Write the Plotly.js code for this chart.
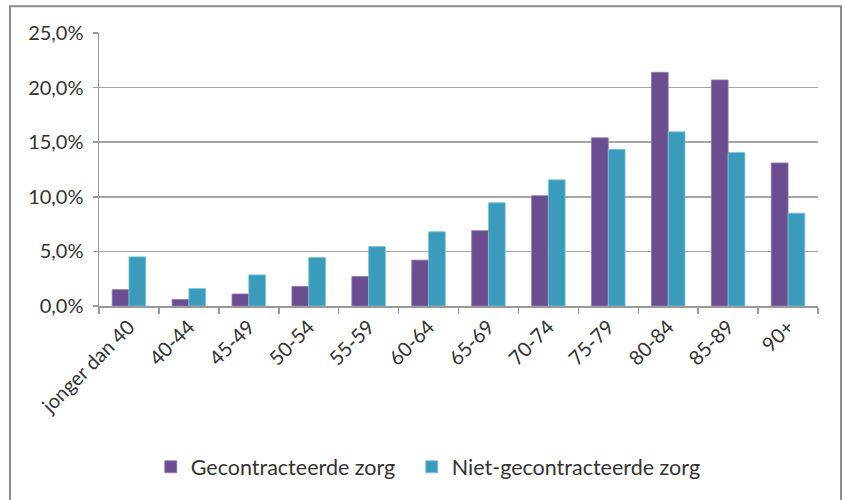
<!DOCTYPE html>
<html>
<head>
<meta charset="utf-8">
<script src="https://cdn.plot.ly/plotly-3.0.1.min.js"></script>
<style>
html,body{margin:0;padding:0;background:#fff;}
#chart{width:843px;height:500px;}
</style>
</head>
<body>
<div id="chart"></div>
<script>
const categories = ["jonger dan 40","40-44","45-49","50-54","55-59","60-64","65-69","70-74","75-79","80-84","85-89","90+"];
const gecontracteerd = [1.5, 0.6, 1.1, 1.8, 2.7, 4.2, 6.9, 10.1, 15.4, 21.4, 20.7, 13.1];
const nietGecontracteerd = [4.5, 1.6, 2.85, 4.45, 5.45, 6.8, 9.45, 11.55, 14.35, 15.95, 14.05, 8.5];
const yTicks = [0, 5, 10, 15, 20, 25];
const yTickLabels = ["0,0%", "5,0%", "10,0%", "15,0%", "20,0%", "25,0%"];
const seriesNames = ["Gecontracteerde zorg", "Niet-gecontracteerde zorg"];

const FONT = "Lato, 'Open Sans', sans-serif";
const traces = [
  {type:'bar', name:seriesNames[0], x:categories, y:gecontracteerd, legend:'legend',
   marker:{color:'#6a4e8f', line:{color:'#8f7bb0', width:0.8}}},
  {type:'bar', name:seriesNames[1], x:categories, y:nietGecontracteerd, legend:'legend2',
   marker:{color:'#3a9bbb', line:{color:'#7cc3da', width:0.8}}}
];
const legendFont = {family:FONT, size:21.5, color:'#333'};
const layout = {
  width:843, height:500,
  margin:{l:99, r:25, t:33, b:192},
  paper_bgcolor:'#fff', plot_bgcolor:'#fff',
  barmode:'group', bargap:0.44, bargroupgap:0,
  font:{family:FONT, size:20, color:'#333'},
  showlegend:true,
  legend:{orientation:'h', x:0.072, xanchor:'left', y:-0.589, yanchor:'middle',
          font:legendFont, itemwidth:30},
  legend2:{orientation:'h', x:0.072 + 261/719, xanchor:'left', y:-0.589, yanchor:'middle',
          font:legendFont, itemwidth:30},
  xaxis:{type:'category', tickangle:-45, showline:true, linecolor:'#999', linewidth:1.5,
         ticks:'outside', ticklen:6, tickcolor:'#999', tickwidth:1.5, tickson:'boundaries',
         showgrid:false, tickfont:{family:FONT, size:20, color:'#333'}},
  yaxis:{range:[0,25], tickmode:'array', tickvals:yTicks, ticktext:yTickLabels,
         showline:true, linecolor:'#999', linewidth:1.5, ticks:'outside', ticklen:5,
         tickcolor:'#999', tickwidth:1.5, showgrid:true, gridcolor:'#a6a6a6', gridwidth:1.5,
         zeroline:false, ticklabelstandoff:5, tickfont:{family:FONT, size:20, color:'#333'}},
  shapes:[{type:'rect', xref:'paper', yref:'paper',
           x0:(10-99)/719, x1:(841-99)/719, y0:(308-520)/275, y1:(308-6)/275,
           line:{color:'#8c8c8c', width:2}, fillcolor:'rgba(0,0,0,0)', layer:'below'}]
};
Plotly.newPlot('chart', traces, layout, {staticPlot:true, displayModeBar:false});
</script>
</body>
</html>
